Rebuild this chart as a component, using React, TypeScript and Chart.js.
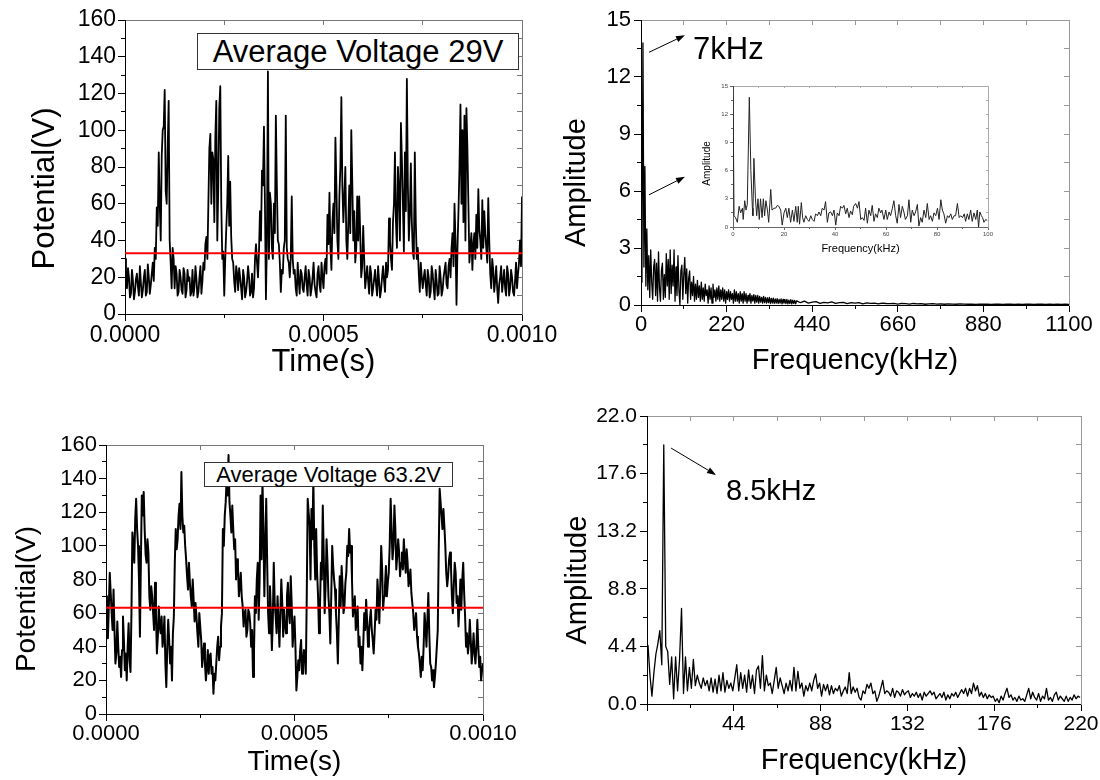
import React, { useEffect, useRef } from "react";
import { Chart, registerables } from "chart.js";

Chart.register(...registerables);

const FONT = "'Liberation Sans', Arial, Helvetica, sans-serif";
Chart.defaults.font.family = FONT;
Chart.defaults.color = "#000";

// ---------------- data ----------------
const TIME_STEP_S = 0.0000025;
const TIME_MAX_S = 0.001;

const potential29V = [
  30, 18, 14, 25, 20, 9, 11, 24, 18, 8, 12, 19, 22, 15, 10, 26, 17, 9, 13, 20,
  24, 10, 12, 27, 20, 11, 16, 22, 28, 18, 36, 30, 58, 48, 88, 60, 40, 86, 100, 102,
  122, 67, 60, 90, 116, 40, 28, 14, 36, 30, 14, 26, 22, 10, 12, 24, 20, 13, 11, 25,
  22, 9, 13, 24, 18, 20, 10, 12, 24, 10, 15, 26, 19, 9, 12, 20, 26, 11, 18, 28,
  24, 38, 42, 30, 60, 90, 98, 60, 88, 84, 50, 96, 116, 40, 70, 112, 124, 60, 30, 34,
  10, 30, 46, 60, 86, 48, 72, 42, 30, 28, 18, 12, 26, 22, 13, 25, 20, 14, 8, 24,
  20, 9, 12, 18, 26, 20, 10, 12, 22, 9, 14, 30, 38, 28, 20, 34, 56, 40, 78, 70,
  102, 60, 8, 40, 132, 30, 66, 60, 36, 30, 60, 44, 108, 70, 40, 38, 28, 12, 24, 22,
  36, 40, 108, 36, 30, 28, 20, 30, 64, 30, 22, 24, 14, 10, 28, 18, 11, 24, 22, 14,
  12, 20, 26, 16, 10, 24, 20, 10, 14, 20, 28, 16, 12, 9, 22, 26, 16, 12, 28, 20,
  14, 26, 30, 22, 54, 38, 66, 36, 24, 50, 60, 44, 96, 70, 40, 30, 64, 80, 118, 70,
  50, 64, 80, 40, 30, 50, 70, 44, 100, 72, 40, 56, 28, 36, 64, 40, 64, 44, 20, 26,
  48, 30, 14, 20, 26, 18, 11, 26, 22, 10, 14, 19, 24, 16, 10, 26, 18, 9, 13, 20,
  26, 18, 12, 28, 20, 24, 52, 40, 30, 24, 50, 60, 88, 50, 36, 80, 68, 40, 104, 84,
  60, 34, 88, 56, 128, 70, 40, 54, 82, 50, 34, 30, 88, 50, 30, 36, 22, 12, 28, 20,
  14, 20, 24, 16, 10, 24, 20, 9, 12, 26, 22, 14, 8, 24, 18, 10, 11, 26, 20, 10,
  13, 20, 24, 28, 16, 14, 26, 30, 20, 36, 44, 26, 60, 40, 5, 36, 56, 80, 114, 60,
  100, 50, 108, 40, 112, 90, 60, 28, 36, 44, 24, 38, 44, 30, 54, 36, 68, 46, 40, 30,
  62, 36, 56, 44, 36, 28, 63, 40, 22, 14, 30, 24, 12, 18, 26, 14, 6, 16, 20, 26,
  12, 18, 24, 14, 10, 26, 22, 10, 14, 24, 20, 12, 10, 18, 28, 14, 22, 28, 40, 26,
  64,
];
const average29V = 33;

const potential63V = [
  70, 48, 45, 64, 84, 72, 60, 50, 74, 50, 30, 36, 55, 40, 28, 34, 22, 38, 58, 44,
  26, 36, 20, 40, 54, 32, 25, 60, 108, 100, 90, 116, 128, 110, 100, 80, 46, 90, 130, 118,
  132, 110, 95, 90, 104, 96, 70, 62, 76, 70, 60, 50, 78, 60, 36, 46, 64, 52, 48, 58,
  40, 46, 58, 30, 16, 40, 56, 44, 30, 40, 20, 48, 58, 90, 110, 98, 104, 118, 125, 110,
  144, 118, 108, 112, 100, 92, 82, 74, 90, 78, 70, 64, 80, 68, 55, 66, 58, 48, 40, 60,
  52, 44, 28, 36, 42, 30, 20, 28, 38, 24, 34, 36, 24, 28, 12, 24, 20, 30, 40, 46,
  32, 40, 52, 60, 110, 100, 118, 126, 140, 130, 154, 126, 118, 108, 124, 110, 98, 104, 80, 92,
  88, 70, 76, 84, 70, 64, 52, 60, 62, 46, 50, 62, 60, 54, 40, 50, 22, 36, 70, 60,
  80, 90, 56, 80, 130, 92, 140, 110, 70, 100, 128, 90, 60, 48, 76, 60, 38, 56, 90, 66,
  58, 48, 70, 56, 40, 60, 80, 66, 46, 62, 54, 48, 70, 78, 60, 54, 82, 66, 40, 50,
  58, 40, 14, 22, 32, 26, 38, 44, 24, 30, 38, 32, 24, 70, 128, 120, 112, 80, 122, 104,
  140, 100, 80, 110, 84, 70, 48, 62, 90, 80, 124, 96, 60, 76, 104, 90, 70, 60, 42, 70,
  100, 88, 80, 74, 60, 48, 30, 56, 82, 64, 88, 76, 60, 64, 78, 84, 100, 94, 110, 96,
  100, 80, 58, 64, 70, 50, 56, 64, 40, 46, 30, 40, 26, 42, 60, 50, 68, 56, 40, 48,
  56, 62, 50, 44, 36, 48, 62, 56, 80, 70, 54, 76, 100, 86, 62, 70, 76, 88, 70, 78,
  84, 100, 128, 110, 92, 100, 124, 110, 86, 94, 104, 96, 82, 90, 96, 86, 104, 92, 84, 98,
  90, 76, 80, 86, 72, 66, 60, 50, 55, 60, 46, 40, 36, 30, 22, 34, 26, 40, 60, 52,
  40, 56, 72, 48, 30, 28, 20, 26, 16, 22, 30, 40, 50, 96, 134, 126, 118, 110, 122, 112,
  100, 84, 76, 82, 92, 96, 88, 70, 60, 76, 90, 84, 66, 70, 52, 64, 80, 62, 80, 90,
  72, 58, 40, 48, 36, 42, 56, 44, 30, 38, 48, 36, 30, 40, 56, 40, 28, 34, 20, 26,
  30,
];
const average63V = 63.2;

// spectrum of the 29 V signal: fine sampling up to 400 kHz, coarser beyond
const FFT_A_LOW_STEP_KHZ = 2.5;
const amplitudeALow = [
  1.2, 2.0, 13.8, 2.0, 7.3, 1.0, 4.0, 0.8, 2.6, 0.4, 2.9, 1.2, 0.3, 2.0, 2.4, 0.5, 2.2, 0.2, 2.8, 0.9,
  0.2, 1.8, 2.2, 0.3, 1.6, 0.4, 2.7, 1.0, 2.4, 0.3, 2.9, 0.6, 2.1, 1.0, 2.9, 0.2, 2.0, 0.5, 2.6, 0.8,
  0.0, 1.8, 2.1, 0.3, 1.6, 2.5, 0.6, 1.9, 0.1, 1.4, 1.8, 0.3, 1.2, 0.5, 1.5, 0.2, 1.1, 0.3, 1.3, 0.4,
  1.0, 0.2, 1.2, 0.3, 0.9, 0.2, 1.1, 0.5, 0.8, 0.1, 1.0, 0.3, 0.9, 0.1, 1.1, 0.4, 0.8, 0.2, 0.9, 0.3,
  1.0, 0.2, 0.8, 0.3, 0.9, 0.2, 0.8, 0.1, 0.7, 0.3, 0.8, 0.2, 0.7, 0.3, 0.6, 0.1, 0.8, 0.2, 0.7, 0.2,
  0.6, 0.1, 0.7, 0.2, 0.6, 0.1, 0.7, 0.2, 0.6, 0.1, 0.5, 0.2, 0.6, 0.1, 0.5, 0.2, 0.55, 0.1, 0.5, 0.15,
  0.5, 0.1, 0.45, 0.15, 0.4, 0.1, 0.45, 0.12, 0.4, 0.1, 0.38, 0.12, 0.4, 0.08, 0.35, 0.1, 0.36, 0.08, 0.32, 0.1,
  0.34, 0.08, 0.3, 0.1, 0.32, 0.06, 0.3, 0.1, 0.28, 0.08, 0.3, 0.06, 0.26, 0.08, 0.28, 0.06, 0.25, 0.08, 0.24, 0.06,
  0.22,
];
const FFT_A_HIGH_START_KHZ = 410;
const FFT_A_HIGH_STEP_KHZ = 10;
const amplitudeAHigh = [
  0.12, 0.2, 0.1, 0.15, 0.18, 0.09, 0.14, 0.11, 0.16, 0.08,
  0.12, 0.14, 0.07, 0.12, 0.1, 0.13, 0.06, 0.11, 0.09, 0.1,
  0.06, 0.1, 0.08, 0.07, 0.09, 0.05, 0.08, 0.07, 0.05, 0.08,
  0.06, 0.07, 0.04, 0.06, 0.07, 0.05, 0.06, 0.04, 0.06, 0.05,
  0.04, 0.06, 0.05, 0.04, 0.05, 0.03, 0.05, 0.04, 0.05, 0.03,
  0.04, 0.05, 0.03, 0.04, 0.04, 0.03, 0.05, 0.03, 0.04, 0.04,
  0.03, 0.04, 0.04, 0.03, 0.04, 0.03, 0.04, 0.03, 0.04, 0.03,
];

const insetFreqKHz = [
  0, 0.4, 1.0, 1.7, 2.4, 3.0, 3.7, 4.0, 4.6, 5.1,
  5.6, 6.4, 7.0, 7.6, 7.8, 8.2, 8.8, 9.3, 9.8, 10.3,
  10.8, 11.4, 11.9, 12.4, 12.9, 13.5, 14.0, 14.8, 15.3, 16.1,
  16.7, 17.4, 18.0, 18.7, 19.3, 20.0, 20.7, 21.3, 21.9, 22.6,
  23.3, 23.9, 24.6, 25.2, 25.6, 26.1, 26.8, 27.3, 27.8, 28.5,
  29.2, 29.8, 30.5, 31.1, 31.8, 32.4, 33.1, 33.7, 34.4, 35.0,
  35.7, 36.3, 37.0, 37.6, 38.3, 39.0, 39.6, 40.3, 40.9, 41.6,
  42.2, 42.9, 43.5, 44.2, 44.8, 45.5, 46.1, 46.8, 47.3, 48.1,
  48.8, 49.4, 50.1, 50.7, 51.4, 52.0, 52.7, 53.3, 54.0, 54.6,
  55.3, 55.9, 56.6, 57.2, 57.9, 58.4, 59.2, 59.9, 60.5, 61.2,
  61.8, 62.5, 63.1, 63.8, 64.4, 65.1, 65.7, 66.4, 67.1, 67.6,
  68.4, 69.0, 69.7, 70.3, 71.0, 71.6, 72.3, 72.9, 73.6, 74.2,
  74.9, 75.6, 76.2, 76.9, 77.5, 78.2, 78.8, 79.5, 80.2, 80.8,
  81.5, 82.1, 82.7, 83.4, 84.1, 84.7, 85.4, 86.0, 86.7, 87.3,
  88.0, 88.7, 89.3, 90.0, 90.7, 91.2, 91.9, 92.5, 93.2, 93.8,
  94.5, 95.2, 95.8, 96.3, 96.8, 97.4, 97.9, 98.4, 99.1, 99.7,
];
const insetAmplitude = [
  15, 1.2, 1.0, 0.5, 2.2, 1.5, 2.0, 0.8, 2.8, 1.8,
  2.4, 13.8, 6.0, 2.0, 1.2, 7.3, 3.0, 1.2, 3.0, 0.8,
  3.0, 1.0, 3.0, 1.2, 2.8, 1.8, 0.5, 4.0, 1.8, 2.0,
  2.0, 2.3, 2.2, 1.8, 0.2, 1.5, 2.0, 1.0, 2.0, 0.5,
  1.8, 0.6, 2.2, 0.5, 2.2, 0.3, 2.6, 1.0, 0.5, 1.2,
  0.8, 0.6, 1.2, 0.8, 0.6, 1.4, 1.2, 1.6, 1.2, 2.0,
  1.8, 2.7, 0.5, 1.5, 1.6, 1.2, 1.8, 0.2, 1.5, 1.2,
  2.2, 2.0, 2.3, 1.4, 2.0, 1.0, 1.7, 1.3, 2.2, 2.5,
  2.0, 2.7, 0.8, 1.0, 0.7, 2.0, 0.4, 1.8, 1.2, 2.3,
  0.6, 1.4, 1.0, 2.0, 1.5, 1.8, 0.8, 1.8, 0.8, 1.6,
  1.2, 2.0, 2.8, 1.2, 0.4, 2.4, 1.0, 2.2, 1.5, 0.8,
  1.2, 2.9, 0.5, 1.8, 1.2, 1.6, 2.4, 0.1, 1.0, 0.5,
  1.8, 1.0, 2.5, 0.8, 1.2, 0.6, 1.5, 1.2, 2.0, 0.8,
  2.9, 1.8, 1.4, 0.4, 1.2, 1.0, 1.4, 0.8, 1.2, 1.2,
  2.5, 1.0, 1.2, 1.0, 1.4, 0.6, 1.4, 0.8, 1.8, 0.6,
  1.5, 0.8, 1.8, 0.0, 1.6, 1.2, 1.0, 0.5, 0.8, 0.7,
];

const FFT_B_START_KHZ = 0.5;
const FFT_B_STEP_KHZ = 1;
const amplitudeB = [
  4.5, 2.2, 0.6, 2.4, 3.8, 4.6, 5.6, 3.0, 19.8, 4.4,
  4.0, 1.5, 3.6, 0.4, 3.6, 1.0, 3.4, 7.3, 0.8, 3.6,
  1.0, 2.8, 1.2, 3.4, 1.4, 2.2, 1.6, 1.2, 2.0, 1.4,
  1.8, 1.0, 2.0, 0.9, 1.9, 0.8, 2.2, 1.0, 2.4, 0.9,
  1.8, 1.2, 1.6, 1.0, 2.0, 3.0, 1.0, 2.4, 1.2, 2.2,
  0.9, 2.6, 1.2, 2.2, 0.8, 2.6, 2.9, 1.2, 3.7, 1.0,
  2.2, 1.4, 1.6, 0.8, 1.8, 2.8, 1.2, 2.0, 1.4, 0.8,
  1.6, 1.0, 1.8, 1.0, 2.8, 1.0, 2.5, 1.2, 1.6, 0.6,
  1.4, 1.0, 1.6, 1.0, 1.8, 2.3, 1.2, 1.6, 0.6, 1.5,
  1.0, 1.5, 0.7, 1.4, 0.8, 1.2, 1.0, 1.4, 0.6, 1.0,
  1.3, 0.8, 2.4, 0.8, 1.3, 0.9, 1.2, 0.5, 0.3, 1.0,
  0.8, 1.5, 1.2, 1.6, 0.8, 1.0, 0.2, 0.6, 1.2, 1.8,
  0.8, 1.0, 0.9, 0.6, 1.2, 0.5, 1.0, 0.9, 0.6, 1.1,
  0.7, 0.9, 1.0, 0.5, 0.8, 0.6, 0.9, 0.5, 0.8, 0.3,
  0.9, 0.6, 0.8, 1.0, 0.7, 0.9, 0.4, 0.6, 0.8, 0.5,
  0.9, 0.3, 0.7, 0.4, 0.8, 0.6, 0.9, 0.5, 0.8, 1.1,
  0.8, 1.2, 0.6, 1.2, 0.8, 1.6, 1.0, 1.4, 0.6, 0.9,
  0.5, 0.8, 0.4, 0.7, 0.5, 0.6, 0.2, 0.4, 0.1, 0.6,
  0.3, 0.8, 1.2, 0.5, 0.7, 0.3, 0.5, 0.2, 0.6, 0.3,
  0.4, 0.2, 0.7, 1.2, 0.4, 0.9, 0.5, 0.3, 0.8, 0.2,
  0.6, 0.4, 1.2, 0.3, 0.5, 0.2, 0.7, 0.9, 0.3, 0.6,
  0.4, 0.2, 0.6, 0.2, 0.5, 0.3, 0.7, 0.4, 0.6, 0.5,
];

const legendA = "Average Voltage 29V";
const legendB = "Average Voltage 63.2V";
const peakLabelA = "7kHz";
const peakLabelB = "8.5kHz";
const timeTitle = "Time(s)";
const potentialTitle = "Potential(V)";
const freqTitle = "Frequency(kHz)";
const ampTitle = "Amplitude";
const TITLE_SHIFT = "     "; // nudges rotated titles slightly below centre, as in the figure

// ---------------- helpers ----------------
type Box = { l: number; t: number; w: number; h: number };
type Rect = { l: number; t: number; r: number; b: number };
type AxisDef = { min: number; max: number; major: number; minor: number; fmt: (v: number) => string };
type Arrow = { x1: number; y1: number; x2: number; y2: number };
type PanelDef = {
  canvas: Box;
  plot: Rect;
  x: AxisDef;
  y: AxisDef;
  xTitle: string;
  yTitle: string;
  xTitleSize: number;
  yTitleSize: number;
  xTitleY: number;
  yTitleX: number;
  tickSize: number;
  tickLen: number;
  minorLen: number;
  innerLen: number;
  xLabelPad: number;
  yLabelPad: number;
  axisColor: string;
  frameColor: string;
  labelColor: string;
  datasets: any[];
  arrows?: Arrow[];
};

const series = (xs: number[], ys: number[]) => ys.map((y, i) => ({ x: xs[i], y }));
const stepped = (start: number, step: number, ys: number[]) => ys.map((y, i) => ({ x: start + i * step, y }));

function arrowPlugin(items: Arrow[]) {
  return {
    id: "arrows",
    afterDatasetsDraw(chart: any) {
      const { ctx, scales } = chart;
      ctx.save();
      ctx.strokeStyle = "#000";
      ctx.fillStyle = "#000";
      ctx.lineWidth = 1;
      for (const a of items) {
        const x1 = scales.x.getPixelForValue(a.x1);
        const y1 = scales.y.getPixelForValue(a.y1);
        const x2 = scales.x.getPixelForValue(a.x2);
        const y2 = scales.y.getPixelForValue(a.y2);
        const ang = Math.atan2(y2 - y1, x2 - x1);
        const hl = 9;
        const hw = 3.2;
        const bx = x2 - hl * Math.cos(ang);
        const by = y2 - hl * Math.sin(ang);
        ctx.beginPath();
        ctx.moveTo(x1, y1);
        ctx.lineTo(bx, by);
        ctx.stroke();
        ctx.beginPath();
        ctx.moveTo(x2, y2);
        ctx.lineTo(bx + hw * Math.sin(ang), by - hw * Math.cos(ang));
        ctx.lineTo(bx - hw * Math.sin(ang), by + hw * Math.cos(ang));
        ctx.closePath();
        ctx.fill();
      }
      ctx.restore();
    },
  };
}

function buildConfig(p: PanelDef) {
  const yW = p.plot.l - p.canvas.l;
  const xH = p.canvas.t + p.canvas.h - p.plot.b;
  const padTop = p.plot.t - p.canvas.t;
  const padRight = p.canvas.l + p.canvas.w - p.plot.r;
  const xLh = p.xTitleSize * 1.2;
  const yLh = p.yTitleSize * 1.2;
  const fit = (w: number | null, h: number | null) => (a: any) => {
    if (w !== null) a.width = w;
    if (h !== null) a.height = h;
    a.paddingLeft = 0;
    a.paddingRight = 0;
    a.paddingTop = 0;
    a.paddingBottom = 0;
  };
  const minorAxis = (axis: "x" | "y", d: AxisDef, position: string, len: number, color: string, weight: number, showBorder: boolean) => ({
    type: "linear",
    axis,
    position,
    weight,
    min: d.min,
    max: d.max,
    ticks: { display: false, stepSize: d.minor, autoSkip: false },
    grid: { display: true, drawOnChartArea: false, drawTicks: true, tickLength: len, tickColor: color, tickWidth: 1 },
    border: { display: showBorder, color, width: 1 },
    afterFit: axis === "x" ? fit(null, 0) : fit(0, null),
  });
  return {
    type: "line",
    data: { datasets: p.datasets },
    plugins: p.arrows ? [arrowPlugin(p.arrows)] : [],
    options: {
      responsive: false,
      maintainAspectRatio: false,
      animation: false,
      events: [],
      layout: { padding: { left: 0, top: padTop, right: padRight, bottom: 0 } },
      elements: {
        point: { radius: 0, hoverRadius: 0 },
        line: { tension: 0, borderJoinStyle: "round", borderCapStyle: "butt", fill: false },
      },
      plugins: { legend: { display: false }, tooltip: { enabled: false }, title: { display: false } },
      scales: {
        x: {
          type: "linear",
          axis: "x",
          position: "bottom",
          weight: 1,
          min: p.x.min,
          max: p.x.max,
          ticks: {
            stepSize: p.x.major,
            autoSkip: false,
            maxRotation: 0,
            minRotation: 0,
            padding: p.xLabelPad,
            color: p.labelColor,
            font: { size: p.tickSize, family: FONT },
            callback: (v: any) => p.x.fmt(Number(v)),
          },
          grid: { display: true, drawOnChartArea: false, drawTicks: true, tickLength: p.tickLen, tickColor: p.axisColor, tickWidth: 1 },
          border: { display: true, color: p.axisColor, width: 1 },
          title: {
            display: true,
            text: p.xTitle,
            color: "#000",
            font: { size: p.xTitleSize, family: FONT, lineHeight: 1.2 },
            padding: { top: 0, bottom: p.canvas.t + p.canvas.h - p.xTitleY - xLh / 2 },
          },
          afterFit: fit(null, xH),
        },
        xMinor: minorAxis("x", p.x, "bottom", p.minorLen, p.axisColor, 0, false),
        x2: minorAxis("x", p.x, "top", -p.innerLen, p.frameColor, 0, true),
        y: {
          type: "linear",
          axis: "y",
          position: "left",
          weight: 1,
          min: p.y.min,
          max: p.y.max,
          ticks: {
            stepSize: p.y.major,
            autoSkip: false,
            padding: p.yLabelPad,
            color: p.labelColor,
            font: { size: p.tickSize, family: FONT },
            callback: (v: any) => p.y.fmt(Number(v)),
          },
          grid: { display: true, drawOnChartArea: false, drawTicks: true, tickLength: p.tickLen, tickColor: p.axisColor, tickWidth: 1 },
          border: { display: true, color: p.axisColor, width: 1 },
          title: {
            display: true,
            text: p.yTitle + TITLE_SHIFT,
            color: "#000",
            font: { size: p.yTitleSize, family: FONT, lineHeight: 1.2 },
            padding: { top: p.yTitleX - p.canvas.l - yLh / 2, bottom: 0 },
          },
          afterFit: fit(yW, null),
        },
        yMinor: minorAxis("y", p.y, "left", p.minorLen, p.axisColor, 0, false),
        y2: minorAxis("y", p.y, "right", -p.innerLen, p.frameColor, 0, true),
      },
    },
  };
}

function ChartBox({ def }: { def: PanelDef }) {
  const ref = useRef<HTMLCanvasElement | null>(null);
  useEffect(() => {
    if (!ref.current) return;
    const chart = new Chart(ref.current, buildConfig(def) as any);
    return () => chart.destroy();
  }, [def]);
  const c = def.canvas;
  return (
    <canvas
      ref={ref}
      width={c.w}
      height={c.h}
      style={{ position: "absolute", left: c.l, top: c.t, width: c.w, height: c.h }}
    />
  );
}

// ---------------- panels ----------------
const timeAxis: AxisDef = { min: 0, max: TIME_MAX_S, major: 0.0005, minor: 0.00025, fmt: (v) => v.toFixed(4) };
const potentialAxis: AxisDef = { min: 0, max: 160, major: 20, minor: 10, fmt: (v) => String(v) };

const panelA: PanelDef = {
  canvas: { l: 0, t: 0, w: 600, h: 390 },
  plot: { l: 125, t: 20, r: 522, b: 314 },
  x: timeAxis,
  y: potentialAxis,
  xTitle: timeTitle,
  yTitle: potentialTitle,
  xTitleSize: 31,
  yTitleSize: 31,
  xTitleY: 362,
  yTitleX: 45,
  tickSize: 23,
  tickLen: 7,
  minorLen: 4,
  innerLen: 5,
  xLabelPad: 1,
  yLabelPad: 2,
  axisColor: "#000",
  frameColor: "#777",
  labelColor: "#000",
  datasets: [
    { data: [{ x: 0, y: average29V }, { x: TIME_MAX_S, y: average29V }], borderColor: "#ff0000", borderWidth: 2 },
    { data: stepped(0, TIME_STEP_S, potential29V), borderColor: "#000", borderWidth: 1.8 },
  ],
};

const panelB: PanelDef = {
  canvas: { l: 540, t: 0, w: 560, h: 390 },
  plot: { l: 641, t: 20, r: 1069, b: 305 },
  x: { min: 0, max: 1100, major: 220, minor: 110, fmt: (v) => String(v) },
  y: { min: 0, max: 15, major: 3, minor: 1.5, fmt: (v) => String(v) },
  xTitle: freqTitle,
  yTitle: ampTitle,
  xTitleSize: 29,
  yTitleSize: 29,
  xTitleY: 361,
  yTitleX: 577,
  tickSize: 22,
  tickLen: 7,
  minorLen: 4,
  innerLen: 5,
  xLabelPad: 0,
  yLabelPad: 3,
  axisColor: "#000",
  frameColor: "#999",
  labelColor: "#000",
  datasets: [
    {
      data: stepped(0, FFT_A_LOW_STEP_KHZ, amplitudeALow).concat(
        stepped(FFT_A_HIGH_START_KHZ, FFT_A_HIGH_STEP_KHZ, amplitudeAHigh)
      ),
      borderColor: "#000",
      borderWidth: 1.3,
    },
  ],
  arrows: [
    { x1: 20.6, y1: 13.3, x2: 113, y2: 14.2 },
    { x1: 20.6, y1: 5.8, x2: 113, y2: 6.75 },
  ],
};

const panelInset: PanelDef = {
  canvas: { l: 695, t: 78, w: 300, h: 182 },
  plot: { l: 733, t: 86, r: 988, b: 227 },
  x: { min: 0, max: 100, major: 20, minor: 10, fmt: (v) => String(v) },
  y: { min: 0, max: 15, major: 3, minor: 1.5, fmt: (v) => String(v) },
  xTitle: freqTitle,
  yTitle: ampTitle,
  xTitleSize: 11,
  yTitleSize: 10,
  xTitleY: 248.5,
  yTitleX: 707,
  tickSize: 6,
  tickLen: 3,
  minorLen: 2,
  innerLen: 2,
  xLabelPad: 1,
  yLabelPad: 2,
  axisColor: "#666",
  frameColor: "#aaa",
  labelColor: "#444",
  datasets: [{ data: series(insetFreqKHz, insetAmplitude), borderColor: "#222", borderWidth: 1 }],
};

const panelC: PanelDef = {
  canvas: { l: 0, t: 390, w: 600, h: 390 },
  plot: { l: 106, t: 445, r: 483, b: 714 },
  x: timeAxis,
  y: potentialAxis,
  xTitle: timeTitle,
  yTitle: potentialTitle,
  xTitleSize: 28,
  yTitleSize: 28,
  xTitleY: 762,
  yTitleX: 27,
  tickSize: 22,
  tickLen: 7,
  minorLen: 4,
  innerLen: 5,
  xLabelPad: 0,
  yLabelPad: 2,
  axisColor: "#000",
  frameColor: "#777",
  labelColor: "#000",
  datasets: [
    { data: [{ x: 0, y: average63V }, { x: TIME_MAX_S, y: average63V }], borderColor: "#ff0000", borderWidth: 2 },
    { data: stepped(0, TIME_STEP_S, potential63V), borderColor: "#000", borderWidth: 2 },
  ],
};

const panelD: PanelDef = {
  canvas: { l: 540, t: 390, w: 560, h: 390 },
  plot: { l: 647, t: 416, r: 1081, b: 704 },
  x: { min: 0, max: 220, major: 44, minor: 22, fmt: (v) => (v === 0 ? "" : String(v)) },
  y: { min: 0, max: 22, major: 4.4, minor: 2.2, fmt: (v) => v.toFixed(1) },
  xTitle: freqTitle,
  yTitle: ampTitle,
  xTitleSize: 29,
  yTitleSize: 29,
  xTitleY: 761,
  yTitleX: 578,
  tickSize: 21,
  tickLen: 7,
  minorLen: 4,
  innerLen: 5,
  xLabelPad: 1,
  yLabelPad: 3,
  axisColor: "#000",
  frameColor: "#999",
  labelColor: "#000",
  datasets: [{ data: stepped(FFT_B_START_KHZ, FFT_B_STEP_KHZ, amplitudeB), borderColor: "#000", borderWidth: 1.3 }],
  arrows: [{ x1: 12.2, y1: 19.55, x2: 35, y2: 17.5 }],
};

const panels = [panelA, panelB, panelInset, panelC, panelD];

const textBase: React.CSSProperties = {
  position: "absolute",
  fontFamily: FONT,
  color: "#000",
  whiteSpace: "nowrap",
  lineHeight: 1,
};

export default function App() {
  return (
    <div style={{ position: "absolute", left: 0, top: 0, width: 1100, height: 780, background: "#fff", overflow: "hidden" }}>
      {panels.map((p, i) => (
        <ChartBox key={i} def={p} />
      ))}
      <div
        style={{
          ...textBase,
          left: 197,
          top: 33,
          width: 322,
          height: 37,
          boxSizing: "border-box",
          border: "1px solid #333",
          background: "#fff",
          display: "flex",
          alignItems: "center",
          justifyContent: "center",
          fontSize: 31,
        }}
      >
        {legendA}
      </div>
      <div
        style={{
          ...textBase,
          left: 204,
          top: 462,
          width: 249,
          height: 25,
          boxSizing: "border-box",
          border: "1px solid #333",
          background: "#fff",
          display: "flex",
          alignItems: "center",
          justifyContent: "center",
          fontSize: 22,
        }}
      >
        {legendB}
      </div>
      <div style={{ ...textBase, left: 693, top: 33, fontSize: 31 }}>{peakLabelA}</div>
      <div style={{ ...textBase, left: 726, top: 476, fontSize: 29 }}>{peakLabelB}</div>
    </div>
  );
}
